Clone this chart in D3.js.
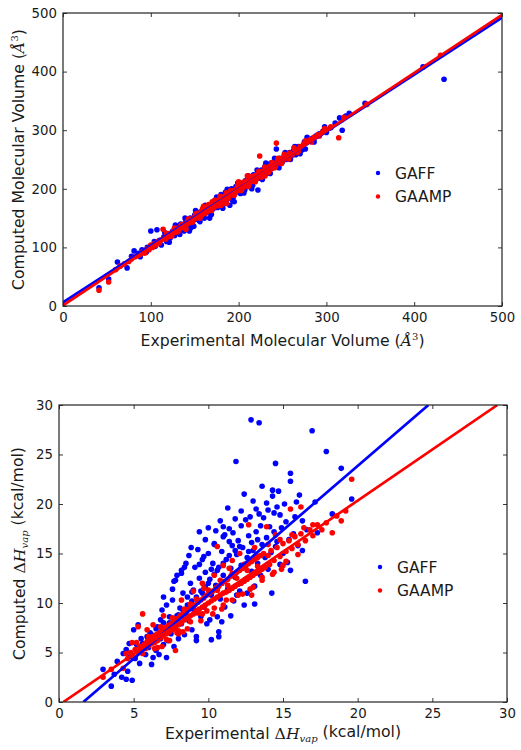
<!DOCTYPE html>
<html>
<head>
<meta charset="utf-8">
<script src="https://cdn.jsdelivr.net/npm/d3@7"></script>
<style>
  html, body { margin: 0; padding: 0; background: #fff; }
  text { font-family: "DejaVu Sans", sans-serif; fill: #1a1a1a; }
  .math { font-family: "DejaVu Serif", serif; }
</style>
</head>
<body>
<svg id="chart" width="521" height="750"></svg>
<script>
// ---------------- DATA ----------------
const seriesNames = ["GAFF", "GAAMP"];
const seriesColors = ["#0000ff", "#ff0000"];

const volTicks = [0, 100, 200, 300, 400, 500];
const hvapTicks = [0, 5, 10, 15, 20, 25, 30];

// Panel 1: molecular volume (experimental, computed)
const volGAFF = [
  [41,31],[52,46],[62,75],[73,65],[78,85],[81,94],[86,90],[90,96],[95,92],[100,128],[105,102],[107,130],
  [110,112],[112,104],[115,118],[118,110],[120,122],[122,116],[125,128],[127,120],[130,135],[132,126],
  [134,140],[136,132],[138,128],[140,145],[142,138],[144,128],[145,150],[147,142],[149,136],[150,155],
  [152,148],[153,160],[155,146],[157,152],[158,162],[160,158],[161,150],[163,166],[165,160],[166,170],
  [167,150],[168,158],[170,174],[171,166],[173,180],[174,170],[176,168],[178,185],[179,176],[180,190],
  [182,167],[183,186],[185,194],[186,180],[188,196],[190,172],[191,188],[192,200],[194,186],[195,178],
  [197,204],[198,195],[200,206],[202,192],[204,210],[205,200],[207,198],[208,214],[210,204],[212,218],
  [214,208],[215,200],[217,224],[219,214],[222,198],[222,226],[224,218],[226,232],[228,222],[230,238],
  [232,226],[233,242],[235,230],[237,244],[239,236],[242,248],[243,268],[245,240],[247,252],[250,246],
  [252,256],[255,250],[258,262],[260,256],[262,264],[265,258],[268,272],[272,266],[275,280],[276,268],
  [280,282],[284,286],[288,290],[292,294],[296,298],[300,296],[305,304],[310,312],[315,321],[318,300],
  [326,329],[344,346],[410,408],[434,387],
  [128,138],[133,122],[139,150],[146,134],[151,163],[156,144],[162,172],[169,156],[175,186],[181,170],
  [187,199],[193,180],[199,210],[206,193],[211,222],[216,206],[221,232],[227,216],[231,244],[236,226],
  [241,252],[246,236],[253,262],[259,250],[264,272],[270,260],[278,288],[286,280],[298,306],[116,125],
  [121,109],[104,110],[96,100],[88,84],[300,300],[322,324]
];
const volGAAMP = [
  [41,27],[52,41],[60,62],[65,68],[70,72],[75,76],[78,80],[82,84],[85,86],[88,88],[90,92],[93,90],
  [96,98],[98,96],[100,104],[102,100],[104,106],[106,104],[108,110],[110,108],[112,113],[114,131],
  [115,116],[117,114],[119,121],[120,118],[122,124],[124,120],[126,128],[128,126],[130,132],[132,130],
  [134,136],[136,134],[138,140],[140,137],[142,145],[144,142],[146,148],[148,144],[150,152],[152,150],
  [153,158],[155,153],[157,160],[158,155],[160,162],[162,158],[164,166],[165,162],[167,170],[168,165],
  [170,172],[172,168],[174,178],[175,172],[177,180],[178,176],[180,183],[182,179],[184,187],[185,182],
  [187,190],[189,186],[190,193],[192,190],[194,197],[196,193],[198,201],[200,197],[202,205],[204,200],
  [206,208],[208,205],[210,213],[212,208],[214,216],[216,213],[218,222],[220,216],[222,225],[224,256],
  [225,222],[227,230],[229,226],[231,234],[233,230],[235,238],[237,234],[239,242],[243,278],[242,238],
  [244,247],[246,244],[248,251],[250,248],[253,256],[255,252],[258,261],[261,258],[264,267],[267,262],
  [270,272],[274,276],[278,280],[282,284],[286,288],[290,292],[295,296],[300,301],[305,306],[314,287],
  [320,322],[346,344],[430,428],
  [118,124],[123,119],[127,133],[131,127],[135,139],[139,135],[143,149],[147,143],[151,157],[156,150],
  [159,166],[163,159],[166,173],[169,163],[173,181],[176,171],[179,187],[183,177],[186,193],[188,183],
  [191,197],[195,189],[199,206],[203,197],[207,213],[211,204],[215,221],[219,212],[223,230],[226,220],
  [230,237],[234,228],[238,245],[241,236],[245,252],[249,243],[252,259],[257,251],[263,270],[268,264],
  [276,282],[283,280],[292,290],[298,303],[200,212],[186,175],[160,170],[140,131],[210,222],[230,222],
  [170,178],[180,172]
];
const volFitGAFF = [[0, 6], [500, 492]];
const volFitGAAMP = [[0, 1], [500, 497]];

// Panel 2: heat of vaporization (experimental, computed), kcal/mol
const hvapGAFF = [
  [2.95,3.3],[3.5,1.6],[3.7,2.8],[4.2,2.5],[4.5,2.3],[4.9,2.2],[4.6,3.1],[4.3,4.9],[4.5,5.3],[4.8,4.6],
  [5.0,7.3],[5.3,7.8],[5.4,5.0],[5.4,3.9],[5.1,4.4],[5.6,5.9],[5.8,4.8],[5.9,6.6],[6.2,3.8],[6.0,5.5],
  [6.1,7.0],[6.3,4.5],[6.4,6.1],[6.5,5.2],[6.6,7.6],[6.7,4.8],[6.8,8.3],[6.9,9.3],[6.8,6.4],[7.0,5.8],
  [7.1,7.1],[7.2,4.5],[7.2,9.8],[7.3,6.2],[7.4,8.0],[7.5,6.9],[7.6,10.3],[7.7,12.2],[7.7,5.6],[7.8,12.3],
  [7.8,7.5],[7.9,12.8],[7.9,8.7],[8.0,6.4],[8.1,9.5],[8.2,13.0],[8.2,7.9],[8.3,11.0],[8.4,6.8],[8.5,14.0],
  [8.5,9.0],[8.6,10.6],[8.7,8.2],[8.8,12.0],[8.85,15.6],[8.9,7.3],[9.0,11.3],[9.0,9.4],[9.1,13.6],[9.2,6.2],
  [9.2,6.6],[9.3,15.4],[9.3,10.1],[9.4,12.5],[9.5,8.6],[9.6,14.4],[9.6,11.0],[9.7,9.6],[9.8,13.1],[9.9,7.9],
  [10.0,15.0],[10.0,12.0],[10.1,8.3],[10.2,6.3],[10.2,10.8],[10.3,14.0],[10.4,15.9],[10.4,16.0],[10.5,11.8],
  [10.6,8.6],[10.6,13.3],[10.7,6.6],[10.7,7.1],[10.8,10.4],[10.9,15.2],[11.0,17.7],[11.0,16.7],[11.0,12.8],
  [11.1,16.9],[11.1,9.6],[11.2,14.4],[11.3,11.4],[11.4,17.5],[11.5,13.5],[11.6,15.8],[11.65,17.1],[11.7,10.2],
  [11.85,24.3],[11.8,12.6],[11.9,14.9],[12.0,16.3],[12.1,11.2],[12.2,13.8],[12.3,15.6],[12.4,9.8],[12.5,18.4],
  [12.5,12.4],[12.6,14.6],[12.7,16.8],[12.8,18.7],[12.86,28.5],[12.9,13.2],[13.0,15.3],[13.1,11.7],[13.2,17.2],
  [13.3,14.0],[13.4,28.2],[13.5,17.8],[13.5,12.8],[13.6,15.9],[13.7,18.6],[13.8,14.6],[13.9,16.6],[14.0,13.4],
  [14.1,17.7],[14.2,15.1],[14.25,11.0],[14.3,21.4],[14.3,20.8],[14.4,19.1],[14.5,24.1],[14.6,19.7],[14.6,16.2],
  [14.7,21.3],[14.8,13.9],[14.9,17.6],[15.0,15.0],[15.2,18.2],[15.4,16.4],[15.5,23.1],[15.5,22.3],[15.5,13.3],
  [15.7,17.0],[15.9,20.2],[16.0,15.8],[16.3,18.3],[16.3,15.3],[16.5,12.2],[16.6,17.4],[16.95,27.4],[17.15,20.2],
  [17.3,17.1],[17.9,25.3],[18.3,19.0],[18.9,23.6],[19.6,20.5],
  [8.0,8.8],[8.3,9.3],[8.6,9.8],[8.9,10.2],[9.2,10.6],[9.5,11.2],[9.8,11.6],[10.1,12.4],[10.4,12.9],
  [10.7,13.6],[11.0,14.0],[11.4,14.8],[11.8,15.3],[12.1,15.7],[6.2,6.8],[6.5,7.4],[7.0,8.0],[7.4,8.6],
  [5.2,5.8],[5.5,6.4],[4.7,5.9],[3.9,4.1],[13.2,19.5],[13.0,20.3],[12.2,19.3],[14.0,19.4],[10.8,18.3],
  [10.0,17.6],[9.4,17.2],[11.3,19.6],[12.4,21.0],[13.6,21.8],[9.8,16.4],[8.7,14.8],[8.4,13.6],[7.6,11.4],
  [7.0,10.6],[8.2,13.3],
  [12.2,17.8],[12.9,16.1],[13.4,19.0],[13.9,20.1],[14.4,17.2],[14.8,18.9],[15.1,20.0],[15.3,14.1],[13.1,9.9],
  [12.6,11.0],[11.5,8.7],[10.9,8.1],[11.9,10.8],[9.7,14.7],[10.2,13.4],[10.9,12.0],[11.4,16.2],[12.7,15.2],
  [13.3,16.4],[14.5,15.7],[15.8,18.7],[16.1,20.9],[8.9,11.1],[9.4,13.9],[10.5,17.3],[11.8,18.5]
];
const hvapGAAMP = [
  [2.95,2.5],[3.5,3.3],[4.3,3.4],[4.5,4.9],[4.6,4.4],[4.8,5.0],[5.0,4.6],[5.1,5.3],[5.3,5.0],[5.3,7.6],
  [5.4,5.6],[5.5,5.2],[5.6,8.9],[5.7,5.8],[5.8,5.4],[5.9,6.1],[6.0,5.7],[6.1,6.3],[6.2,5.9],[6.3,6.6],
  [6.4,6.0],[6.5,6.8],[6.6,6.2],[6.7,7.0],[6.8,6.5],[6.9,7.3],[7.0,6.7],[7.1,7.5],[7.2,6.9],[7.3,7.7],
  [7.4,7.1],[7.5,7.9],[7.6,7.3],[7.7,8.2],[7.8,5.2],[7.8,7.6],[7.9,8.4],[8.0,7.8],[8.1,8.7],[8.2,8.0],
  [8.3,8.9],[8.4,8.3],[8.5,9.1],[8.6,8.5],[8.7,9.4],[8.8,8.7],[8.9,9.6],[9.0,8.9],[9.1,9.8],[9.2,9.2],
  [9.3,10.1],[9.4,9.4],[9.5,10.3],[9.6,9.6],[9.7,10.5],[9.8,9.8],[9.9,10.8],[10.0,10.0],[10.1,11.0],
  [10.2,10.2],[10.3,11.2],[10.4,10.4],[10.5,11.5],[10.6,10.6],[10.7,11.7],[10.8,10.8],[10.9,12.0],
  [11.0,11.0],[11.1,12.2],[11.2,11.1],[11.3,12.4],[11.4,11.3],[11.5,12.7],[11.6,11.5],[11.7,12.9],
  [11.8,11.7],[11.9,13.1],[12.0,11.9],[12.1,13.3],[12.2,12.0],[12.3,13.5],[12.4,12.2],[12.5,13.7],
  [12.6,12.4],[12.7,17.9],[12.7,14.0],[12.8,12.6],[12.9,14.2],[13.0,12.8],[13.1,14.4],[13.2,13.0],
  [13.3,14.6],[13.4,13.2],[13.5,14.8],[13.6,13.4],[13.7,15.0],[13.8,13.6],[13.9,17.7],[14.0,14.8],
  [14.1,13.9],[14.2,15.3],[14.4,14.3],[14.6,15.6],[14.8,14.7],[15.0,16.0],[15.2,15.2],[15.4,16.3],
  [15.5,19.5],[15.6,15.5],[15.8,16.7],[16.0,15.9],[16.2,19.7],[16.2,17.0],[16.5,16.3],[16.8,17.4],
  [17.0,16.8],[17.3,17.9],[17.6,17.4],[17.9,18.1],[18.3,17.1],[18.6,18.8],[18.9,18.3],[19.6,22.5],[19.2,19.3],
  [8.2,10.3],[9.0,11.2],[9.6,12.0],[10.4,12.8],[11.0,13.8],[11.6,14.3],[12.1,15.0],[10.6,15.7],[7.0,8.7],
  [6.3,7.8],[9.5,8.2],[10.3,8.9],[11.0,9.8],[11.6,10.3],[12.3,10.9],[13.0,11.6],[13.6,12.3],[14.3,12.9],
  [15.0,13.8],[8.6,7.4],[8.0,6.9],[7.4,6.2],[6.9,5.6],
  [5.2,6.0],[5.6,4.9],[6.0,6.6],[6.4,5.4],[6.8,7.6],[7.2,6.3],[7.6,8.5],[8.0,7.2],[8.4,9.4],[8.8,8.1],
  [9.2,10.4],[9.6,8.9],[10.0,11.3],[10.4,9.5],[10.8,12.3],[11.2,10.3],[11.6,13.0],[12.0,10.8],[12.4,13.9],
  [12.8,11.4],[13.2,14.8],[13.6,12.6],[14.0,15.9],[14.4,13.1],[14.8,16.4],[15.2,14.2],[15.6,16.9],[16.0,14.9],
  [16.4,17.6],[17.0,17.9],[9.9,9.2],[10.6,11.3],[11.3,11.8],[11.9,12.5],[12.6,13.3],[13.3,13.7],[8.8,9.9],
  [9.3,9.0],[7.9,7.0],[11.4,13.5],[13.1,15.6],[14.5,16.9],[9.7,11.5],[10.9,9.4],[12.9,10.8],[14.9,13.4],
  [6.6,5.5],[8.3,7.1],[5.9,7.3],[4.9,6.0]
];
const hvapFitGAFF = [[1.63, 0], [24.74, 30]];
const hvapFitGAAMP = [[0.29, 0], [29.36, 30]];

// ---------------- DRAWING ----------------
const svg = d3.select("#chart");

function addLabel(g, x, y, rotate, parts) {
  const t = g.append("text")
    .attr("transform", `translate(${x},${y})` + (rotate ? " rotate(-90)" : ""))
    .attr("text-anchor", "middle")
    .attr("font-size", 15.7);
  parts.forEach(p => {
    const ts = t.append("tspan").text(p.t);
    if (p.cls) ts.attr("class", p.cls);
    if (p.italic) ts.attr("font-style", "italic");
    if (p.size) ts.attr("font-size", p.size);
    if (p.dy) ts.attr("dy", p.dy);
  });
}

function panel(cfg, idx) {
  const { left, right, top, bottom } = cfg.box;
  const x = d3.scaleLinear().domain(cfg.domain).range([left, right]);
  const y = d3.scaleLinear().domain(cfg.domain).range([bottom, top]);
  const g = svg.append("g");
  const clipId = "clip" + idx;
  svg.append("clipPath").attr("id", clipId)
    .append("rect").attr("x", left).attr("y", top)
    .attr("width", right - left).attr("height", bottom - top);

  const plot = g.append("g").attr("clip-path", `url(#${clipId})`);
  cfg.series.forEach((s, i) => {
    plot.append("g").selectAll("circle").data(s).join("circle")
      .attr("cx", d => x(d[0])).attr("cy", d => y(d[1]))
      .attr("r", 2.8).attr("fill", seriesColors[i]);
  });
  const line = d3.line().x(d => x(d[0])).y(d => y(d[1]));
  cfg.fits.forEach((f, i) => {
    plot.append("path").attr("d", line(f)).attr("fill", "none")
      .attr("stroke", seriesColors[i]).attr("stroke-width", 2.7);
  });

  // axes (ticks inward, mirrored on top/right)
  const tl = 4;
  const axB = d3.axisBottom(x).tickValues(cfg.ticks).tickSizeInner(-tl).tickSizeOuter(0).tickPadding(7);
  const axT = d3.axisTop(x).tickValues(cfg.ticks).tickSizeInner(-tl).tickSizeOuter(0).tickFormat("");
  const axL = d3.axisLeft(y).tickValues(cfg.ticks).tickSizeInner(-tl).tickSizeOuter(0).tickPadding(6);
  const axR = d3.axisRight(y).tickValues(cfg.ticks).tickSizeInner(-tl).tickSizeOuter(0).tickFormat("");
  const gb = g.append("g").attr("transform", `translate(0,${bottom})`).call(axB);
  const gt = g.append("g").attr("transform", `translate(0,${top})`).call(axT);
  const gl = g.append("g").attr("transform", `translate(${left},0)`).call(axL);
  const gr = g.append("g").attr("transform", `translate(${right},0)`).call(axR);
  [gb, gt, gl, gr].forEach(a => {
    a.select(".domain").remove();
    a.selectAll("line").attr("stroke", "#222").attr("stroke-width", 0.9);
    a.selectAll("text").attr("font-size", 13.3).attr("fill", "#1a1a1a")
      .attr("font-family", "DejaVu Sans, sans-serif");
  });
  g.append("rect").attr("x", left).attr("y", top)
    .attr("width", right - left).attr("height", bottom - top)
    .attr("fill", "none").attr("stroke", "#222").attr("stroke-width", 1.2);

  // legend
  seriesNames.forEach((n, i) => {
    const ly = cfg.legend.y + i * 23.5;
    g.append("circle").attr("cx", cfg.legend.x).attr("cy", ly).attr("r", 2.2).attr("fill", seriesColors[i]);
    g.append("text").attr("x", cfg.legend.x + 17).attr("y", ly).attr("dy", "0.36em")
      .attr("font-size", 15.5).text(n);
  });

  addLabel(g, (left + right) / 2, cfg.xLabelY, false, cfg.xLabel);
  addLabel(g, cfg.yLabelX, (top + bottom) / 2, true, cfg.yLabel);
}

panel({
  box: { left: 63, right: 502, top: 13, bottom: 306 },
  domain: [0, 500], ticks: volTicks,
  series: [volGAFF, volGAAMP], fits: [volFitGAFF, volFitGAAMP],
  legend: { x: 378, y: 173 },
  xLabelY: 346, yLabelX: 24,
  xLabel: [{ t: "Experimental Molecular Volume (" }, { t: "Å", cls: "math", italic: true },
           { t: "3", cls: "math", size: 10, dy: "-0.6em" }, { t: ")", dy: "0.4em" }],
  yLabel: [{ t: "Computed Molecular Volume (" }, { t: "Å", cls: "math", italic: true },
           { t: "3", cls: "math", size: 10, dy: "-0.6em" }, { t: ")", dy: "0.4em" }]
}, 0);

panel({
  box: { left: 59, right: 507, top: 405, bottom: 702 },
  domain: [0, 30], ticks: hvapTicks,
  series: [hvapGAFF, hvapGAAMP], fits: [hvapFitGAFF, hvapFitGAAMP],
  legend: { x: 380, y: 567 },
  xLabelY: 739, yLabelX: 25,
  xLabel: [{ t: "Experimental " }, { t: "Δ", cls: "math" }, { t: "H", cls: "math", italic: true },
           { t: "vap", cls: "math", italic: true, size: 10, dy: "0.3em" }, { t: " (kcal/mol)", dy: "-0.3em" }],
  yLabel: [{ t: "Computed " }, { t: "Δ", cls: "math" }, { t: "H", cls: "math", italic: true },
           { t: "vap", cls: "math", italic: true, size: 10, dy: "0.3em" }, { t: " (kcal/mol)", dy: "-0.3em" }]
}, 1);
</script>
</body>
</html>
